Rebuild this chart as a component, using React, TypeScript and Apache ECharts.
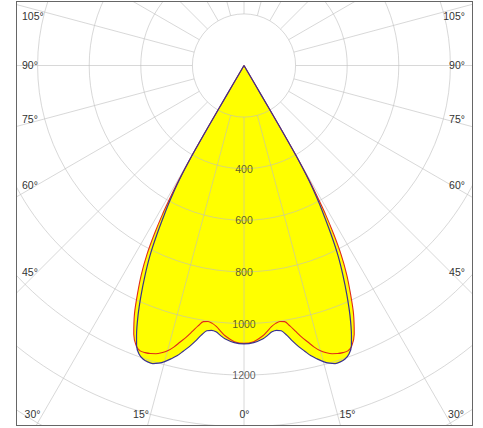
import React, { useEffect, useRef } from "react";
import * as echarts from "echarts";

// Gamma angles (deg, 0 = straight down) and luminous intensities (cd/klm) for one half; mirrored
const gammaC90 = [0, 2, 4, 5, 6, 7, 8, 9, 10, 11, 12, 13, 14, 15, 16, 17, 18, 19, 20, 21, 21.71, 22.98, 24.12, 25.24, 26.32, 27.23, 28.07, 28.73, 29.47, 30.0, 30.26, 30.26, 30];
const intensityC90 = [1079, 1075, 1062, 1050, 1038, 1034, 1038, 1058, 1085, 1110, 1132, 1155, 1172, 1188, 1200, 1208, 1208, 1203, 1190, 1162, 1126, 1052, 977, 900, 822, 741, 659, 597, 512, 403, 269, 135, 0];

const gammaC0 = [0, 2, 4, 5, 6, 7, 8, 9, 10, 11, 12, 13, 14, 15, 16, 17, 18, 19, 20, 21, 22.3, 23.8, 25, 26.2, 27.2, 28, 28.7, 29.1, 29.6, 30.05, 30.26, 30.26, 30];
const intensityC0 = [1077, 1071, 1050, 1034, 1018, 1007, 1002, 1005, 1025, 1050, 1076, 1100, 1125, 1145, 1158, 1168, 1174, 1177, 1177, 1165, 1126, 1052, 977, 900, 822, 741, 659, 597, 512, 403, 269, 135, 0];

const ringValues = [400, 600, 800, 1000, 1200];
const sideLabels = ["105°", "90°", "75°", "60°", "45°"];
const bottomLabels = ["30°", "15°", "0°", "15°", "30°"];

// layout (page px)
const OX = 17;
const OY = 2;
const CX = 244;
const CY = 65.5;
const PX_PER_UNIT = 0.258;
const R_MAX = 1800;
const sideLabelY = [15.7, 64.5, 119.3, 185, 272.3];
const bottomLabelX = [32.5, 141, 244.5, 347.5, 456];
const bottomLabelY = 414.3;
const leftLabelX = 22;
const rightLabelX = 465;

function fullCurve(g: number[], v: number[]) {
  const pts: any[] = [];
  for (let i = g.length - 1; i >= 1; i--) pts.push([v[i], -g[i]]);
  for (let i = 0; i < g.length; i++) pts.push([v[i], g[i]]);
  return pts;
}

export default function App() {
  const ref = useRef<HTMLDivElement>(null);
  useEffect(() => {
    if (!ref.current) return;
    const chart = echarts.init(ref.current, null, { renderer: "svg" });
    const spokes: any[] = [];
    for (let a = -180; a < 180; a += 15) {
      spokes.push([200, a], [R_MAX, a], ["-", "-"]);
    }
    const font = "'Liberation Sans', Arial, sans-serif";
    const graphics: any[] = [];
    sideLabels.forEach((t, i) => {
      graphics.push({
        type: "text", x: leftLabelX - OX, y: sideLabelY[i] - OY, z: 10,
        style: { text: t, fontSize: 10.5, fontFamily: font, fill: "#333", align: "left", verticalAlign: "middle" },
      });
      graphics.push({
        type: "text", x: rightLabelX - OX, y: sideLabelY[i] - OY, z: 10,
        style: { text: t, fontSize: 10.5, fontFamily: font, fill: "#333", align: "right", verticalAlign: "middle" },
      });
    });
    bottomLabels.forEach((t, i) => {
      graphics.push({
        type: "text", x: bottomLabelX[i] - OX, y: bottomLabelY - OY, z: 10,
        style: { text: t, fontSize: 10.5, fontFamily: font, fill: "#333", align: "center", verticalAlign: "middle" },
      });
    });
    const c90 = fullCurve(gammaC90, intensityC90);
    const c0 = fullCurve(gammaC0, intensityC0);
    const gridColor = "rgba(190,190,190,0.6)";
    chart.setOption({
      animation: false,
      polar: { center: [CX - OX, CY - OY], radius: [0, R_MAX * PX_PER_UNIT] },
      angleAxis: {
        type: "value", min: -180, max: 180, interval: 15, startAngle: 90, clockwise: false,
        axisLine: { show: false }, axisTick: { show: false }, axisLabel: { show: false }, splitLine: { show: false },
        z: 3,
      },
      radiusAxis: {
        type: "value", min: 0, max: R_MAX, interval: 200,
        axisLine: { show: false }, axisTick: { show: false }, axisLabel: { show: false },
        splitLine: { show: true, lineStyle: { color: gridColor, width: 1 } },
        z: 3,
      },
      graphic: graphics,
      series: [
        {
          type: "line", coordinateSystem: "polar", data: c0, smooth: 0.3, showSymbol: false, silent: true, z: 1,
          lineStyle: { width: 0 }, areaStyle: { color: "#ffff00", opacity: 1 },
        },
        {
          type: "line", coordinateSystem: "polar", data: c90, smooth: 0.3, showSymbol: false, silent: true, z: 1,
          lineStyle: { width: 0 }, areaStyle: { color: "#ffff00", opacity: 1 },
        },
        {
          type: "line", coordinateSystem: "polar", data: spokes, showSymbol: false, silent: true, z: 3,
          connectNulls: false, lineStyle: { color: gridColor, width: 1 },
        },
        {
          type: "line", coordinateSystem: "polar", data: c0, smooth: 0.3, showSymbol: false, silent: true, z: 4,
          lineStyle: { color: "#e02a1a", width: 1.1 },
        },
        {
          type: "line", coordinateSystem: "polar", data: c90, smooth: 0.3, showSymbol: false, silent: true, z: 4,
          lineStyle: { color: "#3a3290", width: 1.2 },
        },
        {
          type: "scatter", coordinateSystem: "polar", data: ringValues.map((v) => [v, 0]), symbolSize: 0, silent: true, z: 5,
          label: {
            show: true, position: "inside", formatter: (p: any) => String(p.value[0]),
            fontSize: 10.5, fontFamily: font, color: "#333",
          },
        },
      ],
    });
    return () => chart.dispose();
  }, []);
  return (
    <div style={{ position: "fixed", left: 0, top: 0, width: 483, height: 428, background: "#fff" }}>
      <div
        style={{
          position: "absolute", left: 16, top: 1, width: 457, height: 425,
          border: "1px solid #666", boxSizing: "border-box", overflow: "hidden",
        }}
      >
        <div ref={ref} style={{ position: "absolute", left: 0, top: 0, width: 455, height: 423 }} />
      </div>
    </div>
  );
}
